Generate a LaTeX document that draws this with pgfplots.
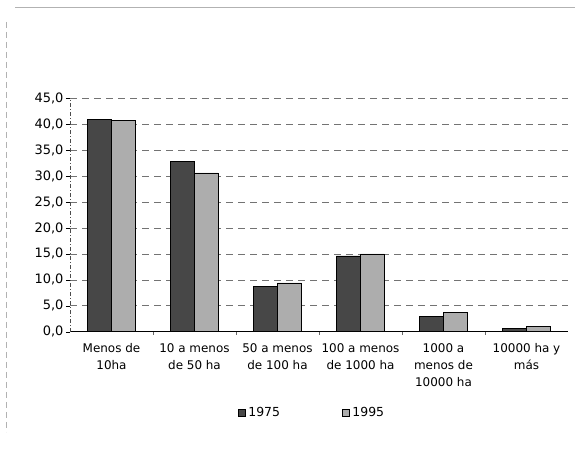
\documentclass[border=0pt]{standalone}
\usepackage{pgfplots}
\pgfplotsset{compat=1.18}
\usepackage{fontspec}
\setmainfont{DejaVu Sans}
\begin{document}
\begin{tikzpicture}
\path (0bp,0bp) rectangle (588bp,452bp);
% faint scanned frame
\draw[gray!60, line width=0.6bp] (15bp,445bp) -- (575bp,445bp);
\draw[gray!60, line width=0.6bp, dash pattern=on 6bp off 4bp] (6bp,430bp) -- (6bp,20bp);
\begin{axis}[
    at={(70bp,120.3bp)}, anchor=south west,
    scale only axis,
    width=498bp, height=233.4bp,
    xmin=-0.5, xmax=5.5,
    ymin=0, ymax=45,
    ytick={0,5,...,45},
    xtick={0,...,5},
    xticklabels={Menos de\\10ha, 10 a menos\\de 50 ha, 50 a menos\\de 100 ha, 100 a menos\\de 1000 ha, 1000 a\\menos de\\10000 ha, 10000 ha y\\más},
    xticklabel style={align=center, font=\fontsize{12}{17.5}\selectfont, yshift=-4bp},
    yticklabel style={font=\fontsize{13}{15}\selectfont, xshift=1bp},
    major x tick style={draw=none},
    minor xtick={0.5,1.5,...,4.5},
    minor x tick style={black!60},
    minor tick length=3bp,
    major tick length=4bp,
    tick align=outside,
    y tick style={black},
    /pgf/number format/.cd, fixed, fixed zerofill, precision=1, use comma, assume math mode=true,
    /pgfplots/.cd,
    axis x line*=bottom,
    axis y line*=left,
    x axis line style={-, black, line width=0.8bp},
    y axis line style={-, black!70, dash pattern=on 4bp off 2bp on 1bp off 2bp},
    ymajorgrids,
    grid style={black!55, dash pattern=on 7bp off 5bp, line width=0.6bp},
    ybar, bar width=24bp,
    legend columns=2,
    legend style={draw=none, at={(0.486,-0.348)}, anchor=center,
        font=\fontsize{12.5}{14}\selectfont,
        /tikz/every odd column/.append style={column sep=1bp},
        /tikz/every even column/.append style={column sep=60bp}},
    legend image code/.code={\draw[#1] (0bp,-3.5bp) rectangle (7bp,3.5bp);},
]
\addplot[draw=black, fill=black!72, bar shift=-12bp] coordinates {(0,40.9) (1,32.8) (2,8.75) (3,14.6) (4,2.9) (5,0.6)};
\addlegendentry{1975}
\addplot[draw=black, fill=black!32, bar shift=12bp] coordinates {(0,40.7) (1,30.6) (2,9.4) (3,15.0) (4,3.7) (5,1.0)};
\addlegendentry{1995}
\end{axis}
\end{tikzpicture}
\end{document}
